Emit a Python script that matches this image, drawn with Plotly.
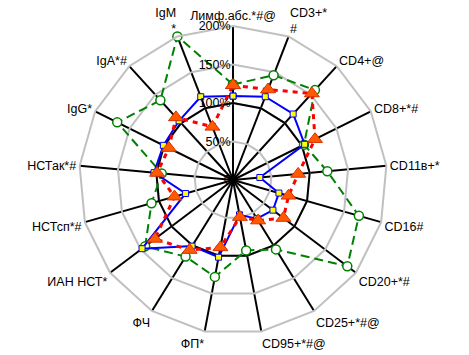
import plotly.graph_objects as go

categories = ["Лимф.абс.*#@", "CD3+*<br>#", "CD4+@", "CD8+*#", "CD11в+*", "CD16#",
              "CD20+*#", "CD25+*#@", "CD95+*#@", "ФП*", "ФЧ", "ИАН НСТ*",
              "НСТсп*#", "НСТак*#", "IgG*", "IgA*#", "IgM<br>*"]
norm = [100] * 17
blue = [109, 116, 116, 104, 35, 62, 65, 59, 46, 102, 101, 148, 64, 103, 101, 104, 116]
red = [123, 126, 152, 119, 85, 75, 82, 62, 49, 89, 107, 127, 79, 99, 93, 110, 74]
green = [124, 146, 158, 103, 123, 170, 186, 106, 93, 128, 117, 143, 110, 93, 168, 140, 200]
radial_ticks = [0, 50, 100, 150, 200]
radial_text = ["0", "50%", "100%", "150%", "200%"]

def closed(v):
    return v + v[:1]

theta = closed(categories)
fig = go.Figure()
fig.add_trace(go.Scatterpolar(r=closed(norm), theta=theta, mode="lines",
                              line=dict(color="black", width=2), hoverinfo="skip"))
fig.add_trace(go.Scatterpolar(r=closed(green), theta=theta, mode="lines+markers",
                              line=dict(color="#008000", width=2, dash="9px,5px"),
                              marker=dict(symbol="circle", size=9, color="white",
                                          line=dict(color="#008000", width=1.5))))
fig.add_trace(go.Scatterpolar(r=closed(blue), theta=theta, mode="lines+markers",
                              line=dict(color="#0000ff", width=2),
                              marker=dict(symbol="square", size=6, color="#ffff00",
                                          line=dict(color="#0000ff", width=1))))
fig.add_trace(go.Scatterpolar(r=closed(red), theta=theta, mode="lines+markers",
                              line=dict(color="#ff0000", width=3, dash="5px,5px"),
                              marker=dict(symbol="triangle-up", size=13, color="#ff5a00",
                                          line=dict(color="#d83000", width=1))))

R = 154
cx, cy = 233, 180
W, H = 469, 355
fig.update_layout(
    width=W, height=H, autosize=False,
    margin=dict(l=0, r=0, t=0, b=0),
    paper_bgcolor="white",
    showlegend=False,
    font=dict(family="Liberation Sans, Arial, sans-serif", size=12, color="black"),
    polar=dict(
        domain=dict(x=[(cx - R) / W, (cx + R) / W],
                    y=[(H - cy - R) / H, (H - cy + R) / H]),
        bgcolor="white",
        gridshape="linear",
        angularaxis=dict(type="category", direction="clockwise", rotation=90,
                         showgrid=True, gridcolor="black", gridwidth=1.5,
                         showline=True, linecolor="#c0c0c0", linewidth=2,
                         ticks="", tickfont=dict(size=12.5)),
        radialaxis=dict(range=[0, 200], tickvals=radial_ticks, ticktext=radial_text,
                        angle=90, tickangle=90, side="counterclockwise",
                        showline=False, ticks="",
                        gridcolor="#c0c0c0", gridwidth=2,
                        tickfont=dict(size=12.5)),
    ),
)
fig.write_html("out.html")
